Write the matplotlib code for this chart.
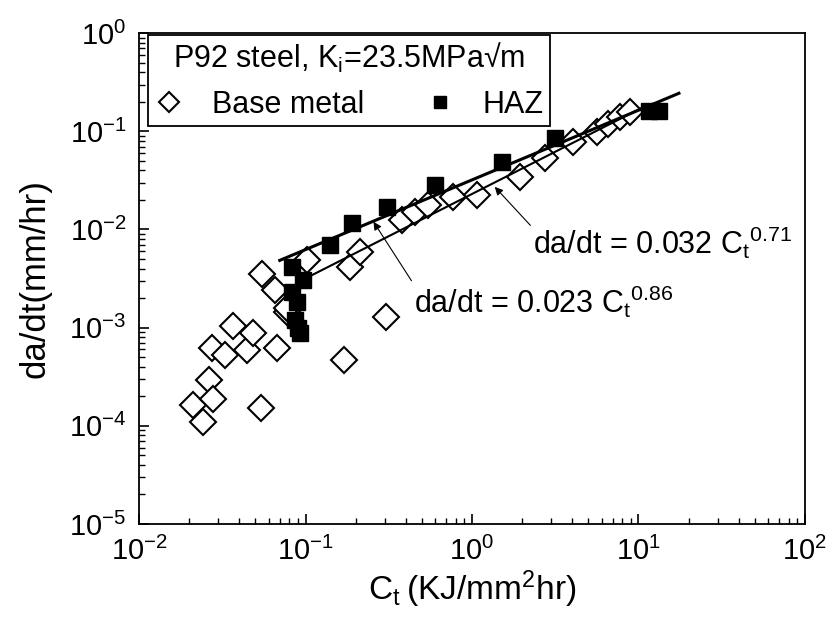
import numpy as np
import matplotlib
matplotlib.use('Agg')
import matplotlib.pyplot as plt

plt.rcParams['font.family'] = ['Liberation Sans', 'DejaVu Sans']
plt.rcParams['mathtext.fontset'] = 'custom'
plt.rcParams['mathtext.rm'] = 'Liberation Sans'
plt.rcParams['mathtext.it'] = 'Liberation Sans'
plt.rcParams['mathtext.default'] = 'regular'

# base metal data
base_ct = [0.0212, 0.0241, 0.0263, 0.0277, 0.0273, 0.0329, 0.0366, 0.0443, 0.0486,
           0.0672, 0.054, 0.170, 0.304, 0.0546, 0.0656, 0.077, 0.0776, 0.1016, 0.185,
           0.212, 0.379, 0.455, 0.547, 0.772, 1.067, 1.94, 2.74, 4.06, 5.61, 6.59,
           7.74, 8.89]
base_rate = [1.63e-4, 1.10e-4, 2.92e-4, 1.86e-4, 6.15e-4, 5.26e-4, 1.04e-3, 5.91e-4,
             8.75e-4, 6.15e-4, 1.51e-4, 4.68e-4, 1.29e-3, 3.51e-3, 2.42e-3, 1.45e-3,
             1.57e-3, 4.88e-3, 4.17e-3, 5.93e-3, 0.01247, 0.01515, 0.0177, 0.0215,
             0.0224, 0.0344, 0.053, 0.078, 0.0989, 0.120, 0.1406, 0.158]

# HAZ data
haz_ct = [0.0827, 0.097, 0.0827, 0.0885, 0.0865, 0.090, 0.0927, 0.140, 0.189,
          0.307, 0.60, 1.51, 3.15, 11.5, 13.3]
haz_rate = [4.17e-3, 3.05e-3, 2.32e-3, 1.84e-3, 1.19e-3, 1.0e-3, 8.75e-4, 6.93e-3,
            0.01153, 0.0170, 0.0283, 0.0489, 0.0846, 0.16, 0.16]

# power-law fits: coefficient, exponent, x range
haz_fit = (0.032, 0.71, 0.07, 17.5)
base_fit = (0.023, 0.86, 0.1, 11.0)

fig = plt.figure(figsize=(8.35, 6.26), dpi=100)
ax = fig.add_axes([0.1665, 0.163, 0.7975, 0.784])

ax.plot(base_ct, base_rate, 'D', ms=13, mfc='white', mec='black', mew=1.5,
        ls='none', label='Base metal', zorder=3)
ax.plot(haz_ct, haz_rate, 's', ms=12, mfc='black', mec='black',
        ls='none', label='HAZ', zorder=4)

c, n, x0, x1 = haz_fit
xf = np.logspace(np.log10(x0), np.log10(x1), 50)
ax.plot(xf, c * xf ** n, color='black', lw=2.2, zorder=5)
c, n, x0, x1 = base_fit
xf = np.logspace(np.log10(x0), np.log10(x1), 50)
ax.plot(xf, c * xf ** n, color='black', lw=1.5, zorder=5)

ax.set_xscale('log')
ax.set_yscale('log')
ax.set_xlim(1e-2, 1e2)
ax.set_ylim(1e-5, 1e0)

ax.annotate('da/dt = 0.032 C$_t$$^{0.71}$', xy=(1.37, 0.0272), xytext=(2.33, 7.3e-3),
            fontsize=22, va='center', ha='left',
            arrowprops=dict(arrowstyle='-|>', color='black', lw=0.8, mutation_scale=12,
                            shrinkA=0, shrinkB=0, relpos=(0, 0.9)))
ax.annotate('da/dt = 0.023 C$_t$$^{0.86}$', xy=(0.256, 0.012), xytext=(0.45, 1.85e-3),
            fontsize=22, va='center', ha='left',
            arrowprops=dict(arrowstyle='-|>', color='black', lw=0.8, mutation_scale=12,
                            shrinkA=0, shrinkB=0, relpos=(0, 0.95)))

ax.tick_params(which='both', direction='in', top=False, right=False, labelsize=21)
ax.tick_params(which='major', length=7, width=1.2, pad=9)
ax.tick_params(which='minor', length=4, width=1)
for s in ax.spines.values():
    s.set_linewidth(1.3)

ax.set_xlabel('C$_t$\u2009(KJ/mm$^2$hr)', fontsize=24, labelpad=2)
ax.set_ylabel('da/dt(mm/hr)', fontsize=25, labelpad=13)

leg = ax.legend(loc='upper left', bbox_to_anchor=(0.0135, 0.996),
                ncol=2, fontsize=22, markerscale=0.75,
                title='P92 steel, K$_i$=23.5MPa√m', title_fontsize=22,
                fancybox=False, edgecolor='black', framealpha=1,
                handlelength=1.0, handletextpad=0.9, columnspacing=2.0,
                borderpad=0.18, labelspacing=0.2, borderaxespad=0)
leg.get_frame().set_linewidth(1.3)
leg._legend_box.sep = 11

fig.savefig('out.png', dpi=100)
